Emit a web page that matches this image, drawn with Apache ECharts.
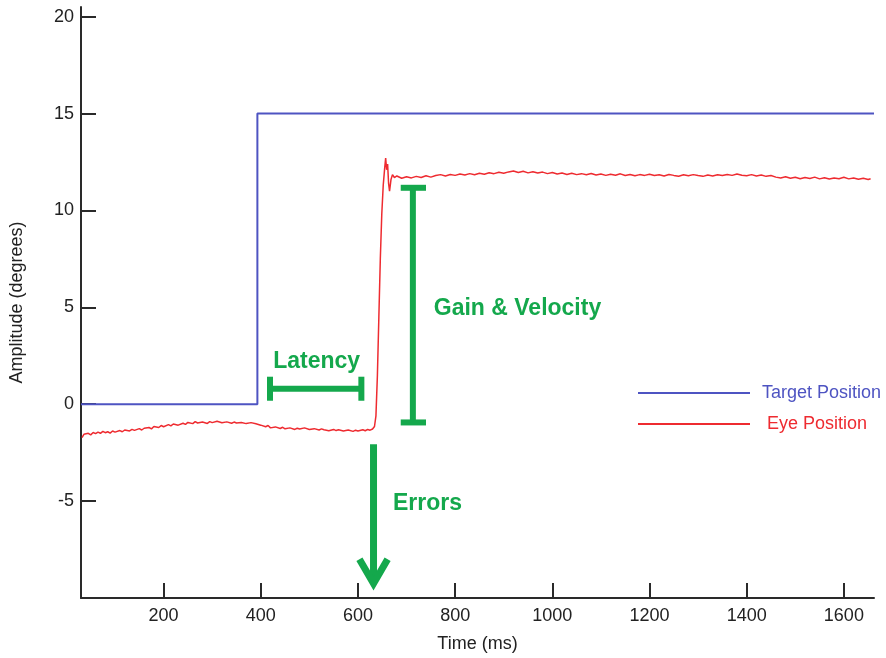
<!DOCTYPE html>
<html>
<head>
<meta charset="utf-8">
<script src="https://cdn.jsdelivr.net/npm/echarts@6/dist/echarts.min.js"></script>
<style>
  html, body { margin: 0; padding: 0; background: #fff; }
  #chart { width: 886px; height: 658px; }
</style>
</head>
<body>
<div id="chart"></div>
<script>
// Saccade recording: stimulus step and eye response (time in ms, amplitude in degrees)
const xTicks = [200, 400, 600, 800, 1000, 1200, 1400, 1600];
const yTicks = [-5, 0, 5, 10, 15, 20];

const targetPosition = [[30, 0], [393, 0], [393, 15], [1662, 15]];

const eyePosition = [
  [32, -1.72], [36, -1.55], [40, -1.62], [45, -1.50], [50, -1.58], [55, -1.46], [60, -1.52],
  [65, -1.44], [70, -1.50], [75, -1.40], [80, -1.47], [85, -1.42], [90, -1.49], [95, -1.38],
  [100, -1.44], [110, -1.36], [115, -1.42], [120, -1.33], [130, -1.38], [135, -1.30], [140, -1.35],
  [150, -1.26], [155, -1.33], [160, -1.24], [170, -1.20], [175, -1.27], [180, -1.15], [190, -1.20],
  [195, -1.10], [200, -1.16], [210, -1.05], [215, -1.12], [220, -1.02], [230, -1.08], [240, -0.98],
  [245, -1.04], [250, -0.94], [260, -1.00], [265, -0.90], [270, -0.97], [280, -0.92], [290, -0.99],
  [295, -0.90], [300, -0.95], [310, -0.88], [320, -0.96], [330, -0.91], [340, -0.98], [345, -0.92],
  [350, -0.97], [360, -0.94], [370, -1.00], [380, -0.95], [390, -1.01], [400, -1.08], [410, -1.16],
  [415, -1.10], [420, -1.22], [430, -1.17], [440, -1.25], [445, -1.19], [450, -1.27], [460, -1.22],
  [470, -1.30], [475, -1.24], [480, -1.28], [490, -1.22], [500, -1.30], [510, -1.26], [520, -1.33],
  [525, -1.27], [530, -1.32], [540, -1.37], [550, -1.30], [555, -1.36], [560, -1.32], [570, -1.38],
  [580, -1.33], [590, -1.40], [595, -1.34], [600, -1.38], [610, -1.32], [615, -1.37], [620, -1.30],
  [625, -1.34], [630, -1.28], [634, -1.15],
  [637, -0.6], [640, 1.5], [643, 4.5], [646, 7.5], [649, 9.8], [652, 11.3], [655, 12.2], [657, 12.7],
  [659, 12.1], [661, 12.4], [663, 11.4], [665, 11.0], [668, 11.6], [671, 11.85], [675, 11.70],
  [680, 11.78], [690, 11.66], [700, 11.74], [710, 11.68], [720, 11.76], [730, 11.70], [740, 11.79],
  [750, 11.72], [760, 11.80], [770, 11.85], [780, 11.78], [790, 11.86], [800, 11.81], [810, 11.88],
  [820, 11.83], [830, 11.90], [840, 11.84], [850, 11.92], [860, 11.87], [870, 11.95], [880, 11.90],
  [890, 11.97], [900, 11.92], [910, 11.99], [920, 12.04], [930, 11.96], [940, 12.02], [950, 11.94],
  [960, 12.00], [970, 11.93], [980, 11.98], [990, 11.90], [1000, 11.96], [1010, 11.88], [1020, 11.93],
  [1030, 11.86], [1040, 11.92], [1050, 11.85], [1060, 11.90], [1070, 11.84], [1080, 11.91], [1090, 11.83],
  [1100, 11.88], [1110, 11.81], [1120, 11.87], [1130, 11.82], [1140, 11.89], [1150, 11.80], [1160, 11.86],
  [1170, 11.79], [1180, 11.85], [1190, 11.81], [1200, 11.87], [1210, 11.80], [1220, 11.84], [1230, 11.78],
  [1240, 11.86], [1250, 11.81], [1260, 11.77], [1270, 11.84], [1280, 11.79], [1290, 11.85], [1300, 11.80],
  [1310, 11.76], [1320, 11.83], [1330, 11.78], [1340, 11.84], [1350, 11.80], [1360, 11.86], [1370, 11.81],
  [1380, 11.88], [1390, 11.82], [1400, 11.79], [1410, 11.85], [1420, 11.78], [1430, 11.83], [1440, 11.76],
  [1450, 11.80], [1460, 11.72], [1470, 11.68], [1480, 11.74], [1490, 11.66], [1500, 11.71], [1510, 11.64],
  [1520, 11.70], [1530, 11.65], [1540, 11.72], [1550, 11.63], [1560, 11.69], [1570, 11.62], [1580, 11.68],
  [1590, 11.64], [1600, 11.71], [1610, 11.63], [1620, 11.68], [1630, 11.61], [1640, 11.66], [1650, 11.60],
  [1655, 11.64]
];

// Annotation anchors, in data units (ms, degrees)
const latencyBracket = { from: 419, to: 607, level: 0.8, capLow: 0.18, capHigh: 1.42 };
const gainBracket = { at: 713, low: -0.94, high: 11.17, capFrom: 688, capTo: 740 };
const errorArrow = { at: 632, top: -2.07, tip: -9.25, armLeft: 603, armRight: 661, armEnd: -8.0 };
const noteLabels = [
  { text: 'Latency', t: 515, v: 2.2, align: 'center' },
  { text: 'Gain & Velocity', t: 756, v: 4.95, align: 'left' },
  { text: 'Errors', t: 672, v: -5.15, align: 'left' }
];

const FONT = '"Liberation Sans", Arial, Helvetica, sans-serif';
const BLUE = '#4e54c2';
const RED = '#ee2b30';
const GREEN = '#14a84c';
const AXIS = '#2a2a2a';

function renderNotes(params, api) {
  const P = (t, v) => api.coord([t, v]);
  const stroke = { stroke: GREEN, lineWidth: 6, fill: null };
  const line = (a, b) => ({ type: 'line', shape: { x1: a[0], y1: a[1], x2: b[0], y2: b[1] }, style: stroke });
  const children = [];
  // latency bracket
  const L = latencyBracket;
  children.push(line(P(L.from, L.level), P(L.to, L.level)));
  children.push(line(P(L.from, L.capLow), P(L.from, L.capHigh)));
  children.push(line(P(L.to, L.capLow), P(L.to, L.capHigh)));
  // gain & velocity bracket
  const G = gainBracket;
  children.push(line(P(G.at, G.low), P(G.at, G.high)));
  children.push(line(P(G.capFrom, G.high), P(G.capTo, G.high)));
  children.push(line(P(G.capFrom, G.low), P(G.capTo, G.low)));
  // error arrow
  const E = errorArrow;
  const top = P(E.at, E.top), tip = P(E.at, E.tip);
  children.push({ type: 'line', shape: { x1: top[0], y1: top[1], x2: tip[0], y2: tip[1] },
    style: { stroke: GREEN, lineWidth: 7 } });
  children.push({ type: 'polyline', shape: { points: [P(E.armLeft, E.armEnd), tip, P(E.armRight, E.armEnd)] },
    style: { stroke: GREEN, lineWidth: 7, fill: null, lineJoin: 'miter', miterLimit: 10 } });
  // labels
  noteLabels.forEach(n => {
    const p = P(n.t, n.v);
    children.push({ type: 'text', x: p[0], y: p[1],
      style: { text: n.text, fill: GREEN, font: 'bold 23px ' + FONT, align: n.align, verticalAlign: 'middle' } });
  });
  return { type: 'group', children };
}

const chart = echarts.init(document.getElementById('chart'), null, { renderer: 'canvas' });
chart.setOption({
  animation: false,
  backgroundColor: '#ffffff',
  grid: { left: 81, right: 12, top: 7, bottom: 58, containLabel: false },
  xAxis: {
    type: 'value', min: 30, max: 1662,
    name: 'Time (ms)', nameLocation: 'middle', nameGap: 37,
    nameTextStyle: { fontSize: 18, color: '#222', fontFamily: FONT },
    axisLine: { show: true, onZero: false, lineStyle: { color: AXIS, width: 2 } },
    axisTick: { show: true, inside: true, length: 15, lineStyle: { color: AXIS, width: 2 }, customValues: xTicks },
    axisLabel: { customValues: xTicks, fontSize: 18, color: '#222', fontFamily: FONT, margin: 9,
      formatter: v => String(v) },
    splitLine: { show: false }
  },
  yAxis: {
    type: 'value', min: -10, max: 20.5, interval: 5,
    name: 'Amplitude (degrees)', nameLocation: 'middle', nameGap: 55,
    nameTextStyle: { fontSize: 18, color: '#222', fontFamily: FONT },
    axisLine: { show: true, onZero: false, lineStyle: { color: AXIS, width: 2 } },
    axisTick: { show: true, inside: true, length: 15, lineStyle: { color: AXIS, width: 2 }, customValues: yTicks },
    axisLabel: { customValues: yTicks, fontSize: 18, color: '#222', fontFamily: FONT, margin: 7,
      formatter: v => String(v) },
    splitLine: { show: false }
  },
  legend: {
    orient: 'vertical', left: 633, top: 379, itemWidth: 112, itemHeight: 2, itemGap: 13,
    icon: 'rect', selectedMode: false,
    textStyle: { fontSize: 18, fontFamily: FONT },
    data: [
      { name: 'Target Position', textStyle: { color: BLUE, padding: [0, 0, 0, 7] } },
      { name: 'Eye Position', textStyle: { color: RED, padding: [0, 0, 0, 12] } }
    ]
  },
  series: [
    {
      name: 'Target Position', type: 'line', data: targetPosition, showSymbol: false,
      lineStyle: { color: BLUE, width: 2 }, itemStyle: { color: BLUE }, z: 3
    },
    {
      name: 'Eye Position', type: 'line', data: eyePosition, showSymbol: false,
      lineStyle: { color: RED, width: 1.5 }, itemStyle: { color: RED }, z: 3
    },
    {
      name: 'notes', type: 'custom', coordinateSystem: 'cartesian2d', data: [[30, 0]],
      renderItem: renderNotes, silent: true, clip: false, z: 5
    }
  ]
});
</script>
</body>
</html>
